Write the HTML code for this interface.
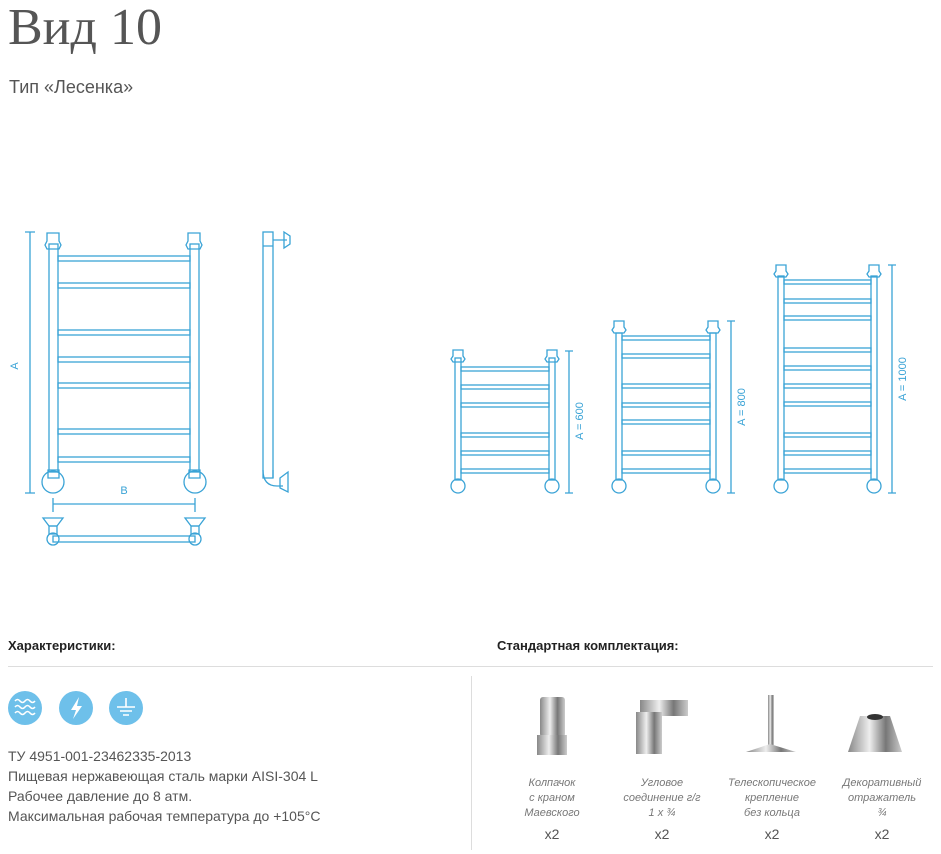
<!DOCTYPE html>
<html><head><meta charset="utf-8"><style>
body{margin:0;width:941px;height:854px;background:#fff;position:relative;overflow:hidden;font-family:"Liberation Sans","DejaVu Sans",sans-serif;}
.a{position:absolute;white-space:nowrap}
</style></head><body>
<div class="a" style="left:8px;top:-2px;font:52px 'Liberation Serif',serif;color:#555">Вид 10</div>
<div class="a" style="left:9px;top:77px;font-size:18px;color:#555">Тип «Лесенка»</div>

<svg class="a" style="left:0;top:0" width="941" height="854" viewBox="0 0 941 854">
<g fill="none" stroke="#3aa3d6" stroke-width="1.3">
<rect x="49" y="244" width="9" height="228"/><rect x="190" y="244" width="9" height="228"/>
<path d="M47 233h12v8l2 4-2 4H47l-2-4 2-4z"/><path d="M188 233h12v8l2 4-2 4h-12l-2-4 2-4z"/>
<g>
<rect x="58" y="256" width="132" height="5"/><rect x="58" y="283" width="132" height="5"/>
<rect x="58" y="330" width="132" height="5"/><rect x="58" y="357" width="132" height="5"/>
<rect x="58" y="383" width="132" height="5"/><rect x="58" y="429" width="132" height="5"/>
<rect x="58" y="457" width="132" height="5"/></g>
<circle cx="53" cy="482" r="11"/><circle cx="195" cy="482" r="11"/>
<path d="M48 470h11v8h-11zM189 470h11v8h-11z"/>
<path d="M30 232v261M25 232h10M25 493h10"/>
<path d="M53 498v14M195 498v14M53 504h142"/>
<rect x="53" y="536" width="142" height="6"/>
<circle cx="53" cy="539" r="6"/><circle cx="195" cy="539" r="6"/>
<path d="M43 518h20l-6 8h-8zM185 518h20l-6 8h-8z"/>
<path d="M49 526h8v8h-8zM191 526h8v8h-8z"/>
<rect x="263" y="232" width="10" height="246"/>
<path d="M263 246h10M273 240h14M284 232l6 4v8l-6 4z"/>
<path d="M263 470q0 16 14 16h6M273 470v8M280 478l8-6v20l-8-4z"/>
<rect x="455" y="358" width="6" height="122"/><rect x="549" y="358" width="6" height="122"/>
<path d="M453 350h10v6l2 3-2 3h-10l-2-3 2-3z"/><path d="M547 350h10v6l2 3-2 3h-10l-2-3 2-3z"/>
<rect x="461" y="367" width="88" height="4"/><rect x="461" y="385" width="88" height="4"/>
<rect x="461" y="403" width="88" height="4"/><rect x="461" y="433" width="88" height="4"/>
<rect x="461" y="451" width="88" height="4"/><rect x="461" y="469" width="88" height="4"/>
<circle cx="458" cy="486" r="7"/><circle cx="552" cy="486" r="7"/>
<path d="M569 351v142M565 351h8M565 493h8"/>
<rect x="616" y="333" width="6" height="147"/><rect x="710" y="333" width="6" height="147"/>
<path d="M614 321h10v6l2 3-2 3h-10l-2-3 2-3z"/><path d="M708 321h10v6l2 3-2 3h-10l-2-3 2-3z"/>
<rect x="622" y="336" width="88" height="4"/><rect x="622" y="354" width="88" height="4"/>
<rect x="622" y="384" width="88" height="4"/><rect x="622" y="403" width="88" height="4"/>
<rect x="622" y="420" width="88" height="4"/><rect x="622" y="451" width="88" height="4"/>
<rect x="622" y="469" width="88" height="4"/>
<circle cx="619" cy="486" r="7"/><circle cx="713" cy="486" r="7"/>
<path d="M731 321v172M727 321h8M727 493h8"/>
<rect x="778" y="276" width="6" height="204"/><rect x="871" y="276" width="6" height="204"/>
<path d="M776 265h10v6l2 3-2 3h-10l-2-3 2-3z"/><path d="M869 265h10v6l2 3-2 3h-10l-2-3 2-3z"/>
<rect x="784" y="280" width="87" height="4"/><rect x="784" y="299" width="87" height="4"/>
<rect x="784" y="316" width="87" height="4"/><rect x="784" y="348" width="87" height="4"/>
<rect x="784" y="366" width="87" height="4"/><rect x="784" y="384" width="87" height="4"/>
<rect x="784" y="402" width="87" height="4"/><rect x="784" y="433" width="87" height="4"/>
<rect x="784" y="451" width="87" height="4"/><rect x="784" y="469" width="87" height="4"/>
<circle cx="781" cy="486" r="7"/><circle cx="874" cy="486" r="7"/>
<path d="M892 265v228M888 265h8M888 493h8"/>
</g>
<g fill="#3aa3d6" font-family="Liberation Sans,sans-serif" font-size="11">
<text x="18" y="366" transform="rotate(-90 18 366)" text-anchor="middle">A</text>
<text x="124" y="494" text-anchor="middle">B</text>
<text x="583" y="421" transform="rotate(-90 583 421)" text-anchor="middle">A = 600</text>
<text x="745" y="407" transform="rotate(-90 745 407)" text-anchor="middle">A = 800</text>
<text x="906" y="379" transform="rotate(-90 906 379)" text-anchor="middle">A = 1000</text>
</g>
<line x1="8" y1="666.5" x2="933" y2="666.5" stroke="#ddd"/>
<line x1="471.5" y1="676" x2="471.5" y2="850" stroke="#ddd"/>
<g fill="#6ec0ea"><circle cx="25" cy="708" r="17"/><circle cx="76" cy="708" r="17"/><circle cx="126" cy="708" r="17"/></g>
<g stroke="#fff" stroke-width="1.6" fill="none">
<path d="M15 701q2.5-3 5 0t5 0 5 0 5 0M15 707q2.5-3 5 0t5 0 5 0 5 0M15 713q2.5-3 5 0t5 0 5 0 5 0"/>
<path d="M126 698v9M117 707h18M120 711h12M123 715h6"/>
</g>
<path d="M79 697l-8 13h5l-3 9 9-13h-5z" fill="#fff"/>
<defs><linearGradient id="m" x1="0" x2="1"><stop offset="0" stop-color="#888"/><stop offset=".4" stop-color="#eee"/><stop offset=".7" stop-color="#777"/><stop offset="1" stop-color="#ccc"/></linearGradient></defs>
<rect x="540" y="697" width="25" height="40" rx="3" fill="url(#m)"/><rect x="537" y="735" width="30" height="20" fill="url(#m)"/>
<rect x="640" y="700" width="48" height="16" fill="url(#m)"/><rect x="636" y="712" width="26" height="42" fill="url(#m)"/>
<rect x="768" y="695" width="6" height="50" fill="url(#m)"/><path d="M746 752l24-8 26 8z" fill="url(#m)"/>
<path d="M848 752l12-36h30l12 36z" fill="url(#m)"/><ellipse cx="875" cy="717" rx="8" ry="3" fill="#333"/>
</svg>

<div class="a" style="left:8px;top:638px;font-size:13px;font-weight:bold;color:#222">Характеристики:</div>
<div class="a" style="left:497px;top:638px;font-size:13px;font-weight:bold;color:#222">Стандартная комплектация:</div>
<div class="a" style="left:8px;top:746px;font-size:14px;line-height:20px;color:#555">ТУ 4951-001-23462335-2013<br>Пищевая нержавеющая сталь марки AISI-304 L<br>Рабочее давление до 8 атм.<br>Максимальная рабочая температура до +105°C</div>
<div class="a" style="left:500px;top:776px;width:440px;font-size:11px;font-style:italic;line-height:15px;color:#777">
<div class="a" style="left:0;width:104px;text-align:center">Колпачок<br>с краном<br>Маевского</div>
<div class="a" style="left:110px;width:104px;text-align:center">Угловое<br>соединение г/г<br>1 x ¾</div>
<div class="a" style="left:220px;width:104px;text-align:center">Телескопическое<br>крепление<br>без кольца</div>
<div class="a" style="left:330px;width:104px;text-align:center">Декоративный<br>отражатель<br>¾</div>
</div>
<div class="a" style="left:500px;top:826px;width:440px;font-size:14px;color:#555">
<div class="a" style="left:0;width:104px;text-align:center">x2</div>
<div class="a" style="left:110px;width:104px;text-align:center">x2</div>
<div class="a" style="left:220px;width:104px;text-align:center">x2</div>
<div class="a" style="left:330px;width:104px;text-align:center">x2</div>
</div>
</body></html>
